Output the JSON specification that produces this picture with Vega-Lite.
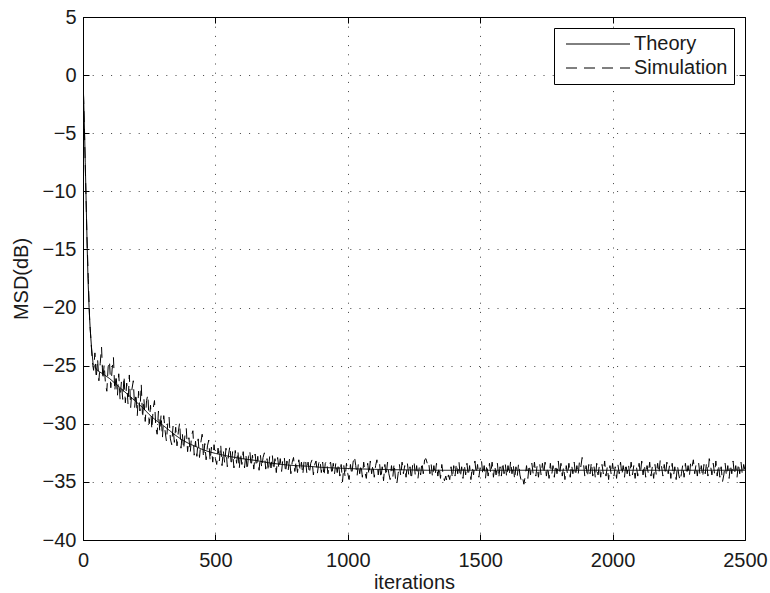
{
  "$schema": "https://vega.github.io/schema/vega-lite/v6.json",
  "width": 662,
  "height": 523,
  "autosize": {"type": "none"},
  "padding": {"left": 83, "top": 17, "right": 25, "bottom": 53},
  "background": "white",
  "config": {
    "font": "Liberation Sans",
    "view": {"stroke": "black", "strokeWidth": 1},
    "axis": {
      "domain": false,
      "gridColor": "black",
      "gridDash": [1, 8.2],
      "gridOpacity": 0.75,
      "gridWidth": 1,
      "tickColor": "black",
      "tickSize": -6,
      "labelFontSize": 20,
      "labelColor": "#1a1a1a",
      "labelFont": "Liberation Sans",
      "titleFontSize": 20,
      "titleFontWeight": "normal",
      "titleColor": "#1a1a1a",
      "titleFont": "Liberation Sans"
    }
  },
  "datasets": {
    "theory": [
      {"i": 0, "msd": 0}, {"i": 3, "msd": -2.5}, {"i": 6, "msd": -5}, {"i": 8.5, "msd": -7.5},
      {"i": 11, "msd": -10}, {"i": 13.5, "msd": -12.5}, {"i": 16, "msd": -15}, {"i": 19, "msd": -17.6},
      {"i": 23, "msd": -20}, {"i": 27, "msd": -21.8}, {"i": 32, "msd": -23.4}, {"i": 38, "msd": -24.8},
      {"i": 45, "msd": -25.1}, {"i": 50, "msd": -25.3}, {"i": 60, "msd": -25.5}, {"i": 75, "msd": -25.7},
      {"i": 100, "msd": -26.1}, {"i": 125, "msd": -26.6}, {"i": 150, "msd": -27.1}, {"i": 175, "msd": -27.6},
      {"i": 200, "msd": -28.1}, {"i": 225, "msd": -28.6}, {"i": 250, "msd": -29.2}, {"i": 275, "msd": -29.7},
      {"i": 300, "msd": -30.1}, {"i": 325, "msd": -30.55}, {"i": 350, "msd": -31.0}, {"i": 375, "msd": -31.4},
      {"i": 400, "msd": -31.7}, {"i": 425, "msd": -31.95}, {"i": 450, "msd": -32.2}, {"i": 475, "msd": -32.4},
      {"i": 500, "msd": -32.55}, {"i": 550, "msd": -32.8}, {"i": 600, "msd": -33.0}, {"i": 650, "msd": -33.15},
      {"i": 700, "msd": -33.35}, {"i": 750, "msd": -33.5}, {"i": 800, "msd": -33.6}, {"i": 850, "msd": -33.65},
      {"i": 900, "msd": -33.75}, {"i": 950, "msd": -33.8}, {"i": 1000, "msd": -33.85}, {"i": 1100, "msd": -33.92},
      {"i": 1200, "msd": -33.96}, {"i": 1300, "msd": -34.0}, {"i": 1600, "msd": -34.0}, {"i": 2000, "msd": -34.0},
      {"i": 2500, "msd": -34.0}
    ],
    "sim": [
      {"i":0,"msd":0.0},{"i":5,"msd":-4.4},{"i":10,"msd":-9.2},{"i":15,"msd":-14.0},{"i":20,"msd":-17.5},{"i":25,"msd":-21.0},{"i":30,"msd":-22.8},{"i":35,"msd":-24.6},{"i":40,"msd":-25.4},{"i":45,"msd":-23.9},
      {"i":50,"msd":-26.1},{"i":55,"msd":-24.4},{"i":60,"msd":-26.3},{"i":65,"msd":-24.8},{"i":70,"msd":-23.4},{"i":75,"msd":-26.2},{"i":80,"msd":-24.9},{"i":85,"msd":-26.6},{"i":90,"msd":-27.2},{"i":95,"msd":-25.1},
      {"i":100,"msd":-24.6},{"i":105,"msd":-26.9},{"i":110,"msd":-25.3},{"i":115,"msd":-24.3},{"i":120,"msd":-27.2},{"i":125,"msd":-25.8},{"i":130,"msd":-27.6},{"i":135,"msd":-25.7},{"i":140,"msd":-27.9},{"i":145,"msd":-26.4},
      {"i":150,"msd":-27.9},{"i":155,"msd":-25.9},{"i":160,"msd":-28.2},{"i":165,"msd":-26.5},{"i":170,"msd":-28.3},{"i":175,"msd":-25.8},{"i":180,"msd":-28.6},{"i":185,"msd":-27.0},{"i":190,"msd":-26.3},{"i":195,"msd":-28.6},
      {"i":200,"msd":-27.4},{"i":205,"msd":-29.3},{"i":210,"msd":-27.2},{"i":215,"msd":-28.9},{"i":220,"msd":-26.6},{"i":225,"msd":-29.5},{"i":230,"msd":-27.8},{"i":235,"msd":-29.8},{"i":240,"msd":-28.0},{"i":245,"msd":-27.5},
      {"i":250,"msd":-30.0},{"i":255,"msd":-28.4},{"i":260,"msd":-30.5},{"i":265,"msd":-28.7},{"i":270,"msd":-28.0},{"i":275,"msd":-30.3},{"i":280,"msd":-30.9},{"i":285,"msd":-28.9},{"i":290,"msd":-30.7},{"i":295,"msd":-29.2},
      {"i":300,"msd":-31.2},{"i":305,"msd":-29.3},{"i":310,"msd":-30.6},{"i":315,"msd":-31.5},{"i":320,"msd":-30.0},{"i":325,"msd":-29.4},{"i":330,"msd":-31.3},{"i":335,"msd":-31.8},{"i":340,"msd":-30.2},{"i":345,"msd":-31.6},
      {"i":350,"msd":-30.3},{"i":355,"msd":-31.9},{"i":360,"msd":-30.7},{"i":365,"msd":-29.9},{"i":370,"msd":-32.1},{"i":375,"msd":-30.8},{"i":380,"msd":-32.2},{"i":385,"msd":-31.0},{"i":390,"msd":-30.4},{"i":395,"msd":-32.4},
      {"i":400,"msd":-31.2},{"i":405,"msd":-32.5},{"i":410,"msd":-31.0},{"i":415,"msd":-30.6},{"i":420,"msd":-32.7},{"i":425,"msd":-31.5},{"i":430,"msd":-32.8},{"i":435,"msd":-31.3},{"i":440,"msd":-32.9},{"i":445,"msd":-31.6},
      {"i":450,"msd":-30.9},{"i":455,"msd":-32.9},{"i":460,"msd":-31.7},{"i":465,"msd":-33.1},{"i":470,"msd":-31.9},{"i":475,"msd":-31.4},{"i":480,"msd":-33.2},{"i":485,"msd":-32.0},{"i":490,"msd":-33.3},{"i":495,"msd":-31.8},
      {"i":500,"msd":-33.0},{"i":505,"msd":-33.5},{"i":510,"msd":-32.1},{"i":515,"msd":-33.2},{"i":520,"msd":-31.8},{"i":525,"msd":-33.6},{"i":530,"msd":-32.3},{"i":535,"msd":-33.4},{"i":540,"msd":-32.1},{"i":545,"msd":-33.7},
      {"i":550,"msd":-32.6},{"i":555,"msd":-31.9},{"i":560,"msd":-33.6},{"i":565,"msd":-32.4},{"i":570,"msd":-33.8},{"i":575,"msd":-32.3},{"i":580,"msd":-33.4},{"i":585,"msd":-32.3},{"i":590,"msd":-33.9},{"i":595,"msd":-32.5},
      {"i":600,"msd":-33.5},{"i":605,"msd":-32.4},{"i":610,"msd":-33.8},{"i":615,"msd":-32.6},{"i":620,"msd":-34.0},{"i":625,"msd":-32.8},{"i":630,"msd":-32.3},{"i":635,"msd":-33.7},{"i":640,"msd":-32.7},{"i":645,"msd":-33.9},
      {"i":650,"msd":-32.6},{"i":655,"msd":-33.7},{"i":660,"msd":-32.8},{"i":665,"msd":-34.0},{"i":670,"msd":-32.7},{"i":675,"msd":-33.8},{"i":680,"msd":-32.9},{"i":685,"msd":-32.5},{"i":690,"msd":-33.9},{"i":695,"msd":-33.0},
      {"i":700,"msd":-34.1},{"i":705,"msd":-32.8},{"i":710,"msd":-33.8},{"i":715,"msd":-32.7},{"i":720,"msd":-34.0},{"i":725,"msd":-33.0},{"i":730,"msd":-34.2},{"i":735,"msd":-32.9},{"i":740,"msd":-33.9},{"i":745,"msd":-33.0},
      {"i":750,"msd":-34.1},{"i":755,"msd":-33.0},{"i":760,"msd":-32.8},{"i":765,"msd":-34.2},{"i":770,"msd":-33.2},{"i":775,"msd":-34.0},{"i":780,"msd":-33.0},{"i":785,"msd":-34.3},{"i":790,"msd":-33.3},{"i":795,"msd":-32.9},
      {"i":800,"msd":-34.1},{"i":805,"msd":-33.2},{"i":810,"msd":-34.2},{"i":815,"msd":-33.1},{"i":820,"msd":-34.0},{"i":825,"msd":-33.3},{"i":830,"msd":-34.4},{"i":835,"msd":-33.2},{"i":840,"msd":-33.0},{"i":845,"msd":-34.2},
      {"i":850,"msd":-33.3},{"i":855,"msd":-34.3},{"i":860,"msd":-33.4},{"i":865,"msd":-33.1},{"i":870,"msd":-34.4},{"i":875,"msd":-33.5},{"i":880,"msd":-33.2},{"i":885,"msd":-34.3},{"i":890,"msd":-33.4},{"i":895,"msd":-33.1},
      {"i":900,"msd":-34.2},{"i":905,"msd":-33.3},{"i":910,"msd":-34.5},{"i":915,"msd":-33.4},{"i":920,"msd":-33.2},{"i":925,"msd":-34.3},{"i":930,"msd":-33.5},{"i":935,"msd":-33.3},{"i":940,"msd":-34.4},{"i":945,"msd":-33.4},
      {"i":950,"msd":-34.3},{"i":955,"msd":-33.3},{"i":960,"msd":-34.2},{"i":965,"msd":-33.4},{"i":970,"msd":-34.5},{"i":975,"msd":-33.5},{"i":980,"msd":-35.0},{"i":985,"msd":-33.6},{"i":990,"msd":-34.6},{"i":995,"msd":-33.4},
      {"i":1000,"msd":-34.3},{"i":1005,"msd":-34.8},{"i":1010,"msd":-33.5},{"i":1015,"msd":-34.4},{"i":1020,"msd":-33.3},{"i":1025,"msd":-32.8},{"i":1030,"msd":-33.6},{"i":1035,"msd":-34.5},{"i":1040,"msd":-33.4},{"i":1045,"msd":-34.3},
      {"i":1050,"msd":-33.5},{"i":1055,"msd":-34.6},{"i":1060,"msd":-33.3},{"i":1065,"msd":-34.2},{"i":1070,"msd":-34.7},{"i":1075,"msd":-33.4},{"i":1080,"msd":-34.4},{"i":1085,"msd":-33.2},{"i":1090,"msd":-34.3},{"i":1095,"msd":-33.5},
      {"i":1100,"msd":-34.6},{"i":1105,"msd":-33.6},{"i":1110,"msd":-33.1},{"i":1115,"msd":-34.4},{"i":1120,"msd":-33.4},{"i":1125,"msd":-34.7},{"i":1130,"msd":-33.7},{"i":1135,"msd":-34.9},{"i":1140,"msd":-33.5},{"i":1145,"msd":-34.5},
      {"i":1150,"msd":-33.3},{"i":1155,"msd":-34.3},{"i":1160,"msd":-34.8},{"i":1165,"msd":-33.6},{"i":1170,"msd":-34.6},{"i":1175,"msd":-33.4},{"i":1180,"msd":-34.7},{"i":1185,"msd":-35.2},{"i":1190,"msd":-34.3},{"i":1195,"msd":-33.5},
      {"i":1200,"msd":-34.5},{"i":1205,"msd":-33.3},{"i":1210,"msd":-34.3},{"i":1215,"msd":-33.6},{"i":1220,"msd":-34.6},{"i":1225,"msd":-33.4},{"i":1230,"msd":-34.4},{"i":1235,"msd":-33.7},{"i":1240,"msd":-34.8},{"i":1245,"msd":-33.5},
      {"i":1250,"msd":-33.2},{"i":1255,"msd":-34.5},{"i":1260,"msd":-33.6},{"i":1265,"msd":-34.7},{"i":1270,"msd":-33.7},{"i":1275,"msd":-34.4},{"i":1280,"msd":-33.3},{"i":1285,"msd":-34.3},{"i":1290,"msd":-33.1},{"i":1295,"msd":-33.0},
      {"i":1300,"msd":-33.4},{"i":1305,"msd":-33.2},{"i":1310,"msd":-34.3},{"i":1315,"msd":-33.5},{"i":1320,"msd":-34.6},{"i":1325,"msd":-33.6},{"i":1330,"msd":-34.4},{"i":1335,"msd":-33.4},{"i":1340,"msd":-34.5},{"i":1345,"msd":-33.7},
      {"i":1350,"msd":-34.7},{"i":1355,"msd":-33.5},{"i":1360,"msd":-34.4},{"i":1365,"msd":-34.9},{"i":1370,"msd":-34.5},{"i":1375,"msd":-35.0},{"i":1380,"msd":-34.4},{"i":1385,"msd":-34.8},{"i":1390,"msd":-33.7},{"i":1395,"msd":-34.7},
      {"i":1400,"msd":-33.6},{"i":1405,"msd":-34.5},{"i":1410,"msd":-33.4},{"i":1415,"msd":-34.3},{"i":1420,"msd":-33.3},{"i":1425,"msd":-34.6},{"i":1430,"msd":-33.7},{"i":1435,"msd":-34.7},{"i":1440,"msd":-33.5},{"i":1445,"msd":-34.4},
      {"i":1450,"msd":-33.4},{"i":1455,"msd":-34.5},{"i":1460,"msd":-33.6},{"i":1465,"msd":-34.8},{"i":1470,"msd":-33.7},{"i":1475,"msd":-34.4},{"i":1480,"msd":-33.2},{"i":1485,"msd":-34.3},{"i":1490,"msd":-33.5},{"i":1495,"msd":-34.6},
      {"i":1500,"msd":-33.7},{"i":1505,"msd":-33.2},{"i":1510,"msd":-34.4},{"i":1515,"msd":-33.6},{"i":1520,"msd":-34.7},{"i":1525,"msd":-33.5},{"i":1530,"msd":-34.5},{"i":1535,"msd":-33.4},{"i":1540,"msd":-34.3},{"i":1545,"msd":-33.3},
      {"i":1550,"msd":-34.6},{"i":1555,"msd":-33.6},{"i":1560,"msd":-34.4},{"i":1565,"msd":-33.4},{"i":1570,"msd":-34.7},{"i":1575,"msd":-33.7},{"i":1580,"msd":-34.5},{"i":1585,"msd":-33.3},{"i":1590,"msd":-34.3},{"i":1595,"msd":-33.5},
      {"i":1600,"msd":-34.6},{"i":1605,"msd":-33.6},{"i":1610,"msd":-34.4},{"i":1615,"msd":-33.2},{"i":1620,"msd":-34.3},{"i":1625,"msd":-33.5},{"i":1630,"msd":-34.8},{"i":1635,"msd":-33.7},{"i":1640,"msd":-34.5},{"i":1645,"msd":-33.4},
      {"i":1650,"msd":-34.4},{"i":1655,"msd":-34.9},{"i":1660,"msd":-34.6},{"i":1665,"msd":-35.2},{"i":1670,"msd":-34.5},{"i":1675,"msd":-33.6},{"i":1680,"msd":-34.7},{"i":1685,"msd":-33.5},{"i":1690,"msd":-34.4},{"i":1695,"msd":-33.4},
      {"i":1700,"msd":-34.3},{"i":1705,"msd":-33.3},{"i":1710,"msd":-34.5},{"i":1715,"msd":-33.6},{"i":1720,"msd":-34.6},{"i":1725,"msd":-33.5},{"i":1730,"msd":-34.4},{"i":1735,"msd":-33.4},{"i":1740,"msd":-34.3},{"i":1745,"msd":-33.3},
      {"i":1750,"msd":-34.5},{"i":1755,"msd":-33.7},{"i":1760,"msd":-34.7},{"i":1765,"msd":-33.4},{"i":1770,"msd":-34.4},{"i":1775,"msd":-33.6},{"i":1780,"msd":-34.6},{"i":1785,"msd":-33.5},{"i":1790,"msd":-34.3},{"i":1795,"msd":-33.2},
      {"i":1800,"msd":-34.4},{"i":1805,"msd":-33.4},{"i":1810,"msd":-34.5},{"i":1815,"msd":-33.7},{"i":1820,"msd":-34.8},{"i":1825,"msd":-33.6},{"i":1830,"msd":-34.4},{"i":1835,"msd":-33.4},{"i":1840,"msd":-34.6},{"i":1845,"msd":-33.5},
      {"i":1850,"msd":-34.3},{"i":1855,"msd":-33.3},{"i":1860,"msd":-34.5},{"i":1865,"msd":-33.6},{"i":1870,"msd":-34.4},{"i":1875,"msd":-33.2},{"i":1880,"msd":-33.7},{"i":1885,"msd":-32.9},{"i":1890,"msd":-33.4},{"i":1895,"msd":-34.5},
      {"i":1900,"msd":-33.6},{"i":1905,"msd":-34.6},{"i":1910,"msd":-33.5},{"i":1915,"msd":-34.3},{"i":1920,"msd":-33.3},{"i":1925,"msd":-34.5},{"i":1930,"msd":-33.7},{"i":1935,"msd":-34.7},{"i":1940,"msd":-33.4},{"i":1945,"msd":-34.4},
      {"i":1950,"msd":-33.6},{"i":1955,"msd":-34.6},{"i":1960,"msd":-33.5},{"i":1965,"msd":-34.3},{"i":1970,"msd":-33.2},{"i":1975,"msd":-34.5},{"i":1980,"msd":-33.7},{"i":1985,"msd":-34.8},{"i":1990,"msd":-33.6},{"i":1995,"msd":-34.4},
      {"i":2000,"msd":-33.4},{"i":2005,"msd":-34.5},{"i":2010,"msd":-33.7},{"i":2015,"msd":-34.7},{"i":2020,"msd":-33.5},{"i":2025,"msd":-34.3},{"i":2030,"msd":-33.3},{"i":2035,"msd":-34.4},{"i":2040,"msd":-33.6},{"i":2045,"msd":-34.6},
      {"i":2050,"msd":-33.4},{"i":2055,"msd":-34.3},{"i":2060,"msd":-33.5},{"i":2065,"msd":-34.5},{"i":2070,"msd":-33.3},{"i":2075,"msd":-34.4},{"i":2080,"msd":-33.6},{"i":2085,"msd":-34.7},{"i":2090,"msd":-33.7},{"i":2095,"msd":-34.5},
      {"i":2100,"msd":-33.4},{"i":2105,"msd":-34.3},{"i":2110,"msd":-33.2},{"i":2115,"msd":-34.4},{"i":2120,"msd":-33.5},{"i":2125,"msd":-34.6},{"i":2130,"msd":-33.6},{"i":2135,"msd":-34.3},{"i":2140,"msd":-33.3},{"i":2145,"msd":-34.5},
      {"i":2150,"msd":-33.7},{"i":2155,"msd":-34.7},{"i":2160,"msd":-33.5},{"i":2165,"msd":-34.4},{"i":2170,"msd":-33.4},{"i":2175,"msd":-34.3},{"i":2180,"msd":-33.1},{"i":2185,"msd":-33.7},{"i":2190,"msd":-34.5},{"i":2195,"msd":-33.5},
      {"i":2200,"msd":-34.4},{"i":2205,"msd":-33.3},{"i":2210,"msd":-34.3},{"i":2215,"msd":-33.6},{"i":2220,"msd":-34.7},{"i":2225,"msd":-33.4},{"i":2230,"msd":-34.5},{"i":2235,"msd":-33.7},{"i":2240,"msd":-34.8},{"i":2245,"msd":-33.6},
      {"i":2250,"msd":-34.4},{"i":2255,"msd":-34.9},{"i":2260,"msd":-34.3},{"i":2265,"msd":-33.5},{"i":2270,"msd":-34.6},{"i":2275,"msd":-33.4},{"i":2280,"msd":-34.4},{"i":2285,"msd":-33.6},{"i":2290,"msd":-34.5},{"i":2295,"msd":-33.3},
      {"i":2300,"msd":-33.7},{"i":2305,"msd":-33.1},{"i":2310,"msd":-34.3},{"i":2315,"msd":-33.5},{"i":2320,"msd":-34.5},{"i":2325,"msd":-33.4},{"i":2330,"msd":-34.4},{"i":2335,"msd":-33.6},{"i":2340,"msd":-34.6},{"i":2345,"msd":-33.5},
      {"i":2350,"msd":-34.3},{"i":2355,"msd":-33.3},{"i":2360,"msd":-34.5},{"i":2365,"msd":-33.0},{"i":2370,"msd":-33.6},{"i":2375,"msd":-34.4},{"i":2380,"msd":-33.4},{"i":2385,"msd":-34.3},{"i":2390,"msd":-33.2},{"i":2395,"msd":-34.5},
      {"i":2400,"msd":-33.5},{"i":2405,"msd":-34.6},{"i":2410,"msd":-33.7},{"i":2415,"msd":-35.0},{"i":2420,"msd":-34.4},{"i":2425,"msd":-33.4},{"i":2430,"msd":-34.5},{"i":2435,"msd":-33.6},{"i":2440,"msd":-34.7},{"i":2445,"msd":-33.5},
      {"i":2450,"msd":-34.3},{"i":2455,"msd":-33.2},{"i":2460,"msd":-34.4},{"i":2465,"msd":-33.6},{"i":2470,"msd":-34.6},{"i":2475,"msd":-33.4},{"i":2480,"msd":-34.3},{"i":2485,"msd":-33.3},{"i":2490,"msd":-34.4},{"i":2495,"msd":-33.5},
      {"i":2500,"msd":-34.0}
    ]
  },
  "resolve": {"axis": {"x": "independent", "y": "independent"}},
  "layer": [
    {
      "data": {"name": "sim"},
      "mark": {"type": "line", "stroke": "black", "strokeWidth": 1, "clip": true},
      "encoding": {
        "x": {
          "field": "i", "type": "quantitative",
          "scale": {"domain": [0, 2500], "nice": false, "zero": false},
          "axis": {"orient": "bottom", "title": "iterations", "format": "d", "values": [0, 500, 1000, 1500, 2000, 2500], "grid": true, "labelPadding": 16, "titlePadding": 2, "labelFlush": false}
        },
        "y": {
          "field": "msd", "type": "quantitative",
          "scale": {"domain": [-40, 5], "nice": false, "zero": false},
          "axis": {"orient": "left", "title": "MSD(dB)", "values": [-40, -35, -30, -25, -20, -15, -10, -5, 0, 5], "grid": true, "labelPadding": 13, "titlePadding": 11}
        },
        "strokeDash": {
          "datum": "Simulation",
          "scale": {"domain": ["Theory", "Simulation"], "range": [[1, 0], [11, 7]]},
          "legend": {
            "title": null,
            "orient": "none",
            "legendX": 471,
            "legendY": 11,
            "direction": "vertical",
            "symbolType": "M-1,0H15",
            "symbolSize": 64,
            "symbolOffset": 0,
            "symbolStrokeWidth": 1,
            "symbolStrokeColor": "black",
            "labelFontSize": 20,
            "labelFont": "Liberation Sans",
            "labelColor": "#1a1a1a",
            "labelOffset": 54,
            "strokeColor": "black",
            "fillColor": "white",
            "padding": 6,
            "rowPadding": 4
          }
        }
      }
    },
    {
      "data": {"name": "theory"},
      "mark": {"type": "line", "stroke": "black", "strokeWidth": 1, "clip": true},
      "encoding": {
        "x": {
          "field": "i", "type": "quantitative",
          "axis": {"orient": "top", "title": null, "labels": false, "grid": false, "values": [0, 500, 1000, 1500, 2000, 2500]}
        },
        "y": {
          "field": "msd", "type": "quantitative",
          "axis": {"orient": "right", "title": null, "labels": false, "grid": false, "values": [-40, -35, -30, -25, -20, -15, -10, -5, 0, 5]}
        },
        "strokeDash": {"datum": "Theory"}
      }
    }
  ]
}
